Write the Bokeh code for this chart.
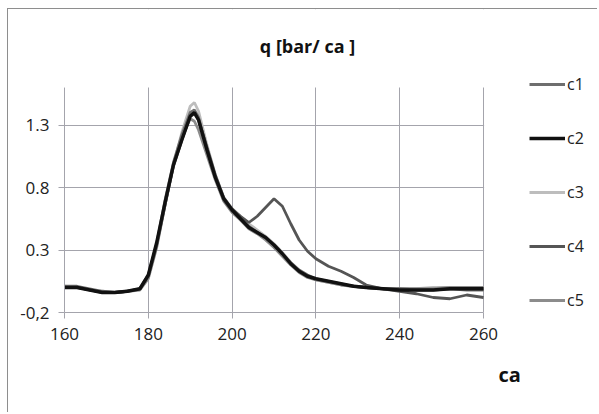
from bokeh.plotting import figure
from bokeh.models import FixedTicker, Title, Label, Legend, LegendItem, ColumnDataSource, BoxAnnotation
from bokeh.embed import file_html
from bokeh.resources import INLINE

# ---- data ----
ca = [160, 163, 166, 169, 172, 175, 178, 180, 182, 184, 186, 188, 190, 191, 192, 194, 196, 198,
      200, 202, 204, 206, 208, 210, 212, 214, 216, 218, 220, 223, 226, 229, 232, 236, 240, 244,
      248, 252, 256, 260]

c1 = [0.01, 0.01, -0.01, -0.03, -0.04, -0.03, -0.01, 0.10, 0.35, 0.70, 1.00, 1.22, 1.40, 1.42, 1.36,
      1.11, 0.88, 0.70, 0.61, 0.55, 0.49, 0.44, 0.40, 0.34, 0.27, 0.20, 0.14, 0.10, 0.07, 0.05,
      0.03, 0.01, 0.0, -0.01, -0.01, -0.02, -0.02, -0.01, -0.02, -0.02]
c2 = [0.0, 0.0, -0.02, -0.04, -0.04, -0.03, -0.01, 0.10, 0.36, 0.68, 0.98, 1.18, 1.37, 1.40, 1.34,
      1.10, 0.88, 0.71, 0.62, 0.55, 0.48, 0.44, 0.40, 0.34, 0.27, 0.19, 0.13, 0.09, 0.07, 0.05,
      0.03, 0.01, 0.0, -0.01, -0.02, -0.02, -0.02, -0.01, -0.01, -0.01]
c3 = [0.01, 0.0, -0.02, -0.03, -0.04, -0.03, -0.01, 0.08, 0.33, 0.66, 0.98, 1.24, 1.45, 1.48, 1.41,
      1.14, 0.90, 0.72, 0.62, 0.57, 0.51, 0.46, 0.41, 0.35, 0.28, 0.20, 0.13, 0.09, 0.06, 0.04,
      0.02, 0.01, 0.0, -0.01, -0.01, -0.01, 0.0, 0.0, 0.0, 0.0]
c4 = [0.0, 0.0, -0.02, -0.04, -0.04, -0.03, -0.01, 0.09, 0.34, 0.66, 0.97, 1.18, 1.37, 1.39, 1.34,
      1.12, 0.90, 0.72, 0.63, 0.57, 0.52, 0.57, 0.64, 0.71, 0.65, 0.51, 0.38, 0.29, 0.23, 0.17,
      0.13, 0.08, 0.02, -0.01, -0.03, -0.05, -0.08, -0.09, -0.06, -0.08]
c5 = [0.0, 0.0, -0.02, -0.04, -0.04, -0.03, -0.02, 0.07, 0.32, 0.66, 0.98, 1.20, 1.35, 1.33, 1.26,
      1.06, 0.86, 0.69, 0.60, 0.54, 0.47, 0.43, 0.38, 0.32, 0.25, 0.18, 0.12, 0.08, 0.06, 0.04,
      0.02, 0.01, 0.0, -0.01, -0.01, -0.01, -0.01, 0.0, 0.0, 0.0]

x_ticks = [160, 180, 200, 220, 240, 260]
y_ticks = [-0.2, 0.3, 0.8, 1.3]
y_tick_labels = {-0.2: "-0,2", 0.3: "0.3", 0.8: "0.8", 1.3: "1.3"}
X_MIN, X_MAX = 160, 260
Y_MIN, Y_MAX = -0.2, 1.6

title_text = "q [bar/ ca ]"
x_title = "ca"

FONT = "Open Sans"
GRID = "#a4a4ac"

# ---- layout (pixels) ----
W, H = 590, 404
BORDER_L, BORDER_B = 56, 101
PX_X = 419 / (X_MAX - X_MIN)         # pixels per x unit in the plotted area
PX_Y = 225 / (Y_MAX - Y_MIN)         # pixels per y unit
frame_w = W - BORDER_L
frame_h = H - BORDER_B
x_end = X_MIN + frame_w / PX_X
y_end = Y_MIN + frame_h / PX_Y

p = figure(width=W, height=H, x_range=(X_MIN, x_end), y_range=(Y_MIN, y_end),
           output_backend="svg", toolbar_location=None,
           min_border_left=BORDER_L, min_border_right=0, min_border_top=0,
           min_border_bottom=BORDER_B)
p.outline_line_color = None
p.styles = {"border-left": "1px solid #8e8e8e", "border-top": "1px solid #8e8e8e",
            "margin-left": "7px", "margin-top": "8px"}

p.xaxis.ticker = FixedTicker(ticks=x_ticks)
p.yaxis.ticker = FixedTicker(ticks=y_ticks)
p.xgrid.ticker = FixedTicker(ticks=x_ticks)
p.ygrid.ticker = FixedTicker(ticks=y_ticks)
p.xaxis.bounds = (X_MIN, X_MAX)
p.yaxis.bounds = (Y_MIN, Y_MAX)
p.yaxis.major_label_overrides = y_tick_labels
for g in (p.xgrid, p.ygrid):
    g.grid_line_color = GRID
    g.grid_line_width = 1
for ax in (p.xaxis, p.yaxis):
    ax.axis_line_color = GRID
    ax.major_tick_line_color = GRID
    ax.major_tick_out = 6
    ax.major_tick_in = 0
    ax.minor_tick_line_color = None
    ax.major_label_text_font = FONT
    ax.major_label_text_font_size = "17px"
    ax.major_label_text_color = "#222222"
p.xaxis.major_label_standoff = 9
p.yaxis.major_label_standoff = 9

src = ColumnDataSource(dict(ca=ca, c1=c1, c2=c2, c3=c3, c4=c4, c5=c5))
r3 = p.line("ca", "c3", source=src, line_color="#bdbdbd", line_width=2.8)
r5 = p.line("ca", "c5", source=src, line_color="#8c8c8c", line_width=2.8)
r1 = p.line("ca", "c1", source=src, line_color="#6e6e6e", line_width=2.8)
r4 = p.line("ca", "c4", source=src, line_color="#555555", line_width=2.8)
r2 = p.line("ca", "c2", source=src, line_color="#111111", line_width=3.4)

# white masks so the grid stops at the plotted area's edges
p.add_layout(BoxAnnotation(left=X_MAX + 0.6 / PX_X, fill_color="white", fill_alpha=1,
                           line_color=None))
p.add_layout(BoxAnnotation(bottom=Y_MAX, right=X_MAX + 0.6 / PX_X, fill_color="white",
                           fill_alpha=1, line_color=None))

legend = Legend(items=[LegendItem(label="c1", renderers=[r1]),
                       LegendItem(label="c2", renderers=[r2]),
                       LegendItem(label="c3", renderers=[r3]),
                       LegendItem(label="c4", renderers=[r4]),
                       LegendItem(label="c5", renderers=[r5])],
                location=(465, 1))
legend.border_line_color = None
legend.background_fill_alpha = 0
legend.padding = 0
legend.margin = 0
legend.spacing = 32
legend.glyph_height = 22
legend.glyph_width = 36
legend.label_height = 22
legend.label_standoff = 2
legend.label_text_font = FONT
legend.label_text_font_size = "16px"
legend.label_text_baseline = "middle"
legend.label_text_color = "#222222"
p.add_layout(legend, "center")

p.add_layout(Label(x=243, y=267, x_units="screen", y_units="screen", text=title_text,
                   text_align="center", text_baseline="middle",
                   text_font=FONT, text_font_style="bold", text_font_size="18px",
                   text_color="#111111"))

xt = Title(text=x_title, align="left", offset=434, standoff=32,
           text_font=FONT, text_font_style="bold", text_font_size="20px", text_color="#111111")
p.add_layout(xt, "below")

open("out.html", "w").write(file_html(p, INLINE))
